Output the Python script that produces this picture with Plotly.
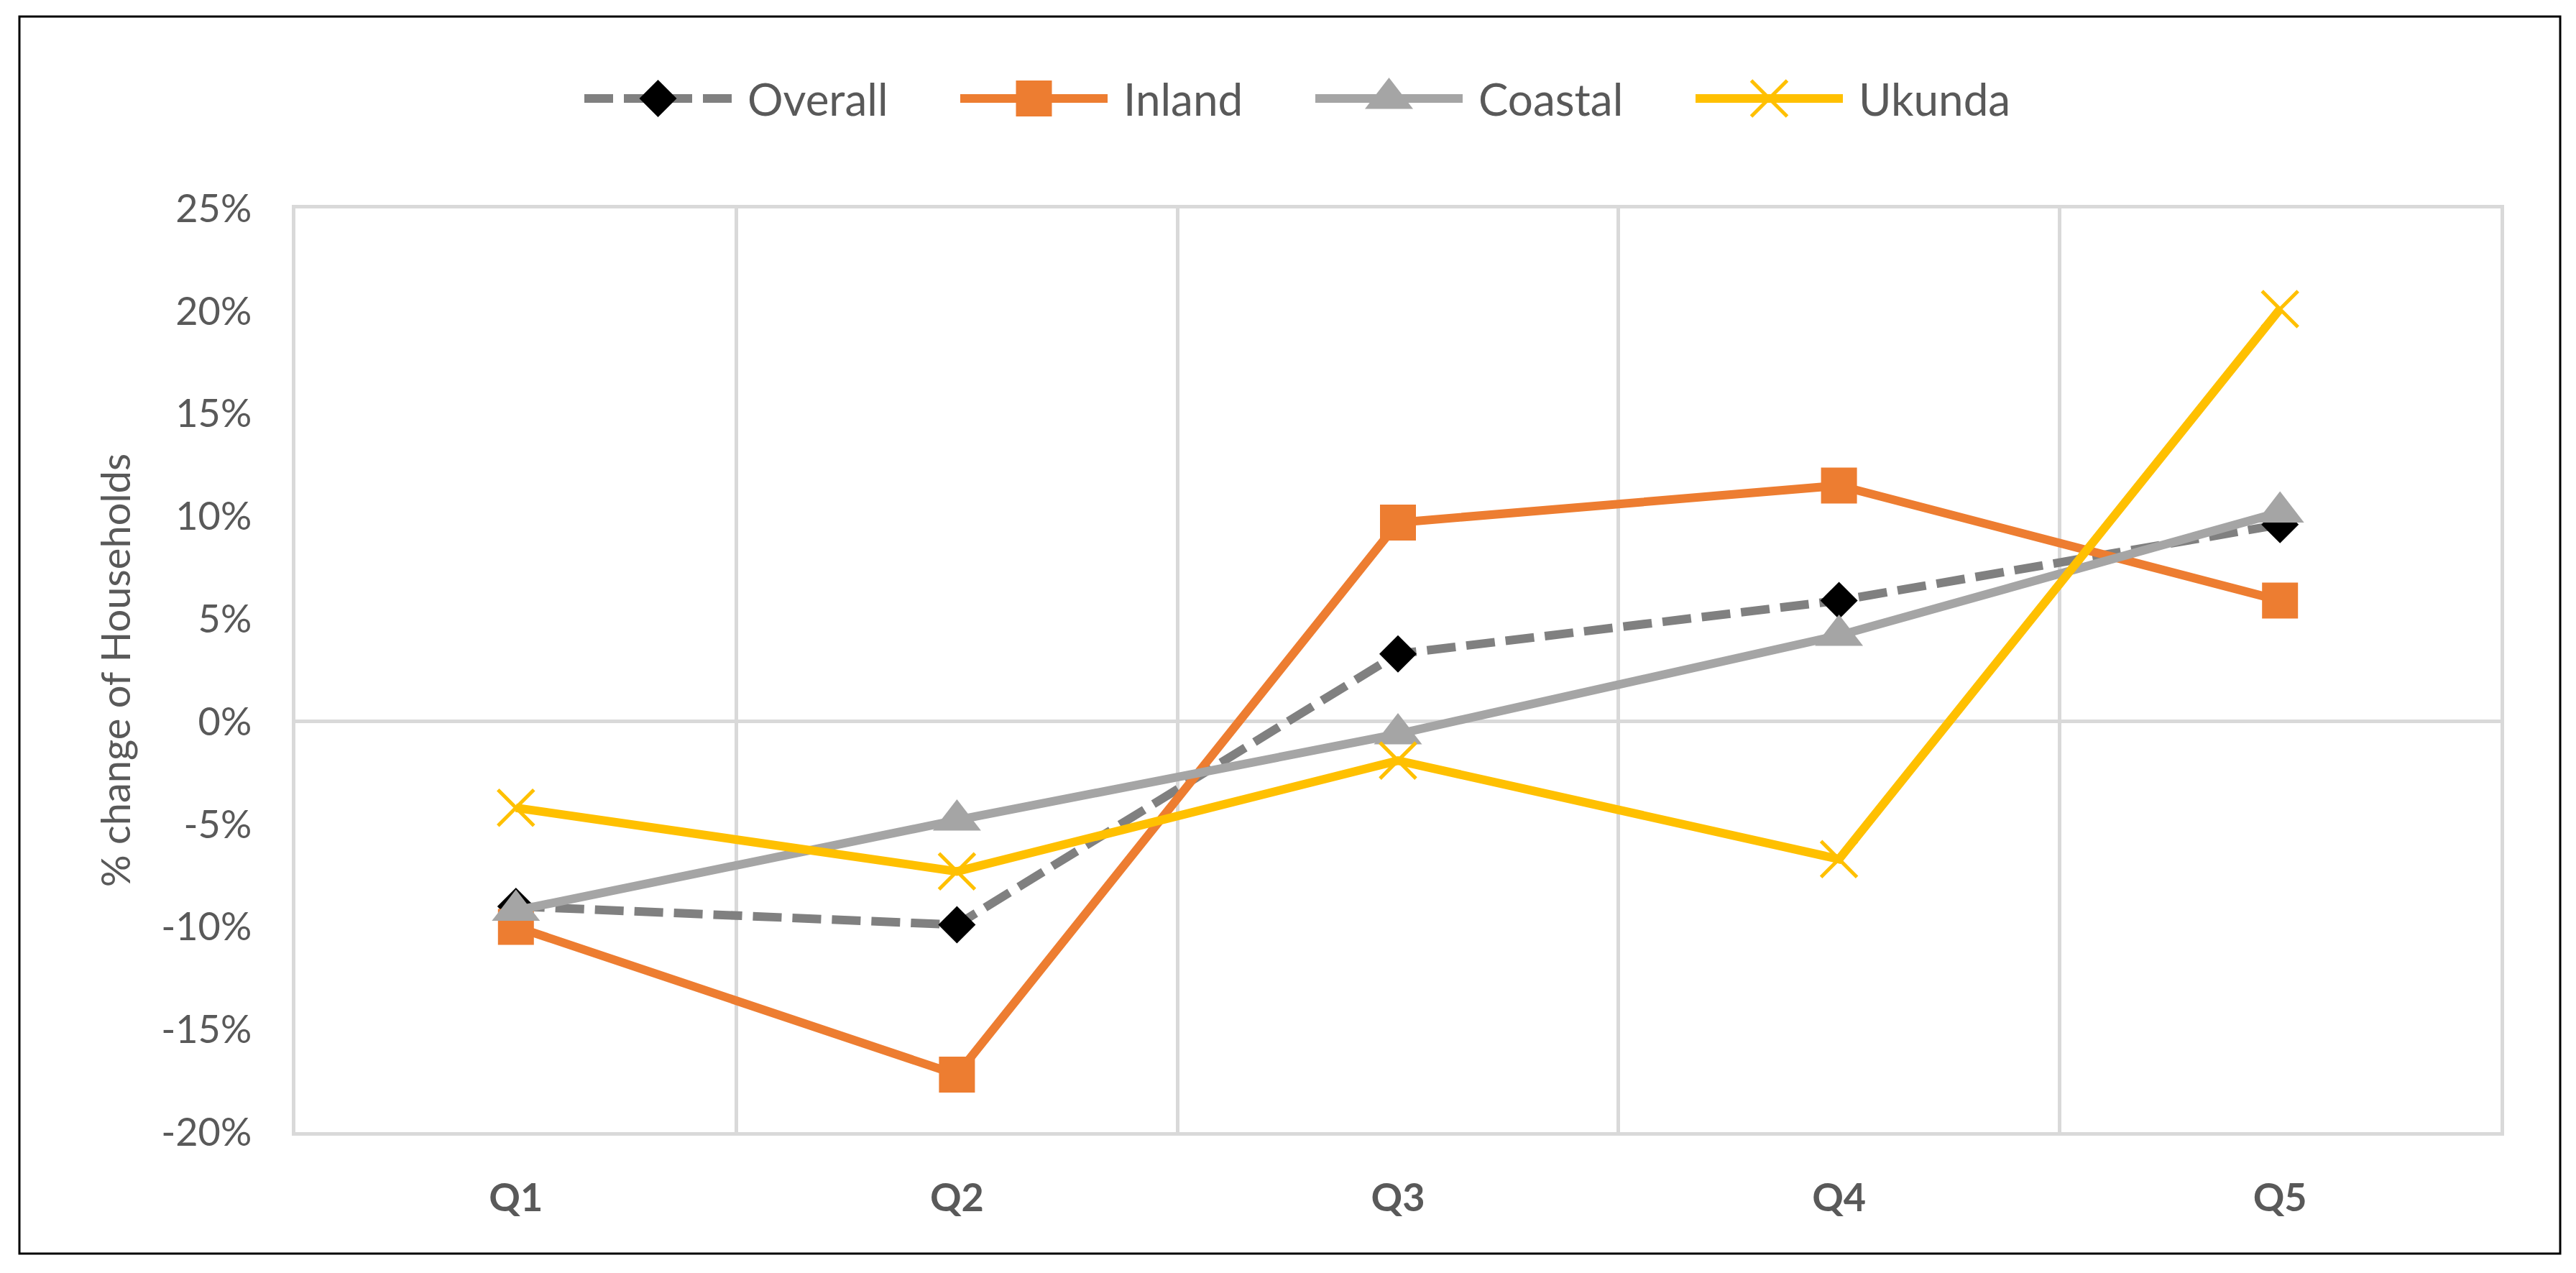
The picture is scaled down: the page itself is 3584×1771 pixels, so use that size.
import plotly.graph_objects as go

# ---------------- data ----------------
quarters = ["Q1", "Q2", "Q3", "Q4", "Q5"]
overall = [-0.090, -0.099, 0.033, 0.059, 0.096]
inland = [-0.100, -0.172, 0.097, 0.115, 0.059]
coastal = [-0.092, -0.048, -0.006, 0.042, 0.102]
ukunda = [-0.042, -0.073, -0.019, -0.067, 0.201]

y_tickvals = [-0.20, -0.15, -0.10, -0.05, 0.0, 0.05, 0.10, 0.15, 0.20, 0.25]
y_ticktext = ["-20%", "-15%", "-10%", "-5%", "0%", "5%", "10%", "15%", "20%", "25%"]
y_title = "% change of Households"
series_names = ["Overall", "Inland", "Coastal", "Ukunda"]

# ---------------- layout constants ----------------
W, H = 3584, 1771
PL, PR, PT, PB = 411, 3479, 290, 1575   # plot area in pixels
FONT = "Lato"
TXT = "#595959"
GRID = "#d9d9d9"

styles = {
    "Overall": dict(color="#808080", dash="40px,15px", symbol="diamond", msize=40,
                    mcolor="#000000", mline=0),
    "Inland": dict(color="#ED7D31", dash="solid", symbol="square", msize=50,
                   mcolor="#ED7D31", mline=0),
    "Coastal": dict(color="#A5A5A5", dash="solid", symbol="triangle-up", msize=58,
                    mcolor="#A5A5A5", mline=0),
    "Ukunda": dict(color="#FFC000", dash="solid", symbol="x-thin", msize=50,
                   mcolor="#FFC000", mline=5),
}
values = {"Overall": overall, "Inland": inland, "Coastal": coastal, "Ukunda": ukunda}

fig = go.Figure()

for name in series_names:
    s = styles[name]
    marker = dict(symbol=s["symbol"], size=s["msize"], color=s["mcolor"],
                  line=dict(width=s["mline"], color=s["mcolor"]))
    fig.add_trace(go.Scatter(
        x=quarters, y=values[name], name=name, mode="lines+markers",
        line=dict(color=s["color"], width=12, dash=s["dash"]),
        marker=marker, xaxis="x", yaxis="y", showlegend=False,
        cliponaxis=False,
    ))

# ---------------- custom legend (pixel overlay axes) ----------------
leg_y = 137
leg_starts = [813, 1336, 1830, 2359]
leg_len = 205
for name, x0 in zip(series_names, leg_starts):
    s = styles[name]
    xm = x0 + leg_len / 2
    fig.add_trace(go.Scatter(
        x=[x0, xm, x0 + leg_len], y=[leg_y] * 3, mode="lines",
        line=dict(color=s["color"], width=12, dash=s["dash"]),
        xaxis="x2", yaxis="y2", showlegend=False, hoverinfo="skip",
    ))
    fig.add_trace(go.Scatter(
        x=[xm], y=[leg_y], mode="markers",
        marker=dict(symbol=s["symbol"], size=s["msize"], color=s["mcolor"],
                    line=dict(width=s["mline"], color=s["mcolor"])),
        xaxis="x2", yaxis="y2", showlegend=False, hoverinfo="skip",
    ))
    fig.add_annotation(
        x=x0 + leg_len + 20, y=leg_y, xref="x2", yref="y2", text=name,
        showarrow=False, xanchor="left", yanchor="middle",
        font=dict(family=FONT, size=62, color=TXT),
    )

# outer black frame
fig.add_shape(type="rect", xref="x2", yref="y2", x0=27, x1=3562, y0=23, y1=1744,
              line=dict(color="#000000", width=3), fillcolor="rgba(0,0,0,0)")

fig.update_layout(
    width=W, height=H,
    margin=dict(l=0, r=0, t=0, b=0, pad=0, autoexpand=False),
    paper_bgcolor="white", plot_bgcolor="rgba(0,0,0,0)",
    showlegend=False,
    font=dict(family=FONT, color=TXT),
    xaxis=dict(
        domain=[PL / W, PR / W], anchor="y", type="category", automargin=False,
        range=[-0.5, 4.5], autorange=False,
        tickson="boundaries", ticks="", showgrid=True, gridcolor=GRID, gridwidth=5,
        showline=True, mirror=True, linecolor=GRID, linewidth=5, zeroline=False,
        tickfont=dict(family=FONT, size=54, color=TXT, weight="bold"),
        ticklabelstandoff=40,
    ),
    yaxis=dict(
        domain=[1 - PB / H, 1 - PT / H], anchor="x", automargin=False,
        range=[-0.20, 0.25], autorange=False, tickvals=y_tickvals, ticktext=y_ticktext,
        ticks="", showgrid=False, zeroline=True, zerolinecolor=GRID, zerolinewidth=5,
        showline=True, mirror=True, linecolor=GRID, linewidth=5,
        tickfont=dict(family=FONT, size=54, color=TXT),
        ticklabelstandoff=45,
        title=dict(text=y_title, font=dict(family=FONT, size=56, color=TXT), standoff=26),
    ),
    xaxis2=dict(domain=[0, 1], range=[0, W], visible=False, anchor="y2",
                fixedrange=True, automargin=False),
    yaxis2=dict(domain=[0, 1], range=[H, 0], visible=False, anchor="x2",
                fixedrange=True, automargin=False),
)

fig.write_html("out.html", config={"displayModeBar": False},
               post_script="document.body.style.margin='0';")
